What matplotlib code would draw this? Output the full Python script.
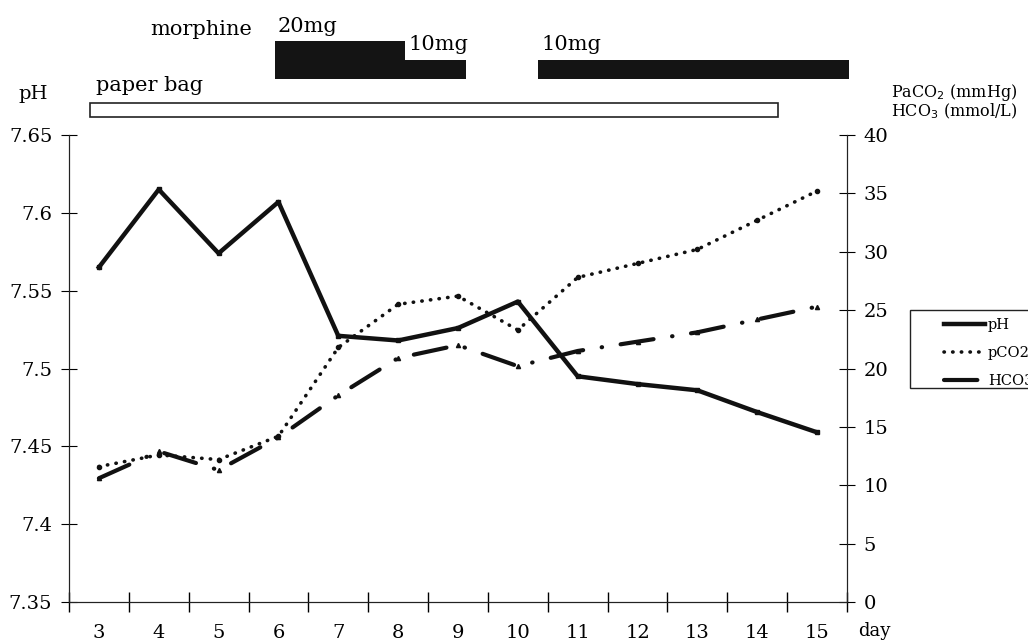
import numpy as np
import matplotlib.pyplot as plt
from matplotlib.patches import Rectangle
import matplotlib.transforms as mtransforms

plt.rcParams['font.family'] = ['DejaVu Serif']

days = ["3", "4", "5", "6", "7", "8", "9", "10", "11", "12", "13", "14", "15"]
ph = [7.565, 7.615, 7.574, 7.607, 7.521, 7.518, 7.526, 7.543, 7.495, 7.490, 7.486, 7.472, 7.459]
pco2 = [11.6, 12.6, 12.2, 14.2, 21.8, 25.5, 26.2, 23.3, 27.8, 29.0, 30.2, 32.7, 35.2]
hco3 = [10.6, 12.9, 11.3, 14.1, 17.7, 20.9, 22.0, 20.2, 21.5, 22.3, 23.1, 24.2, 25.3]

# treatment periods, in day-index units (0 = day 3)
morphine = [(2.94, 5.12, "20mg"), (5.12, 6.14, "10mg"), (7.34, 12.53, "10mg")]
paper_bag = (-0.15, 11.34)

x = np.arange(len(days))

fig = plt.figure(figsize=(10.28, 6.41), dpi=100)
ax = fig.add_axes([0.0671, 0.0608, 0.7568, 0.7286])
ax2 = ax.twinx()

l1, = ax.plot(x, ph, color='#111111', lw=3.2, marker='s', ms=3, label='pH')
l2, = ax2.plot(x, pco2, color='#111111', lw=2.6, linestyle=(0, (0.1, 2.3)),
               dash_capstyle='round', marker='o', ms=3, label='pCO2')
l3, = ax2.plot(x, hco3, color='#111111', lw=3.0, linestyle=(0, (8, 4.5, 0.1, 4.5)),
               dash_capstyle='round', marker='^', ms=3, label='HCO3')

ax.set_xlim(-0.5, len(days) - 0.5)
ax.set_ylim(7.35, 7.65)
ax2.set_ylim(0, 40)
ax.set_yticks(np.arange(7.35, 7.651, 0.05))
ax.set_yticklabels(["7.35", "7.4", "7.45", "7.5", "7.55", "7.6", "7.65"])
ax2.set_yticks(np.arange(0, 41, 5))

ax.set_xticks(x)
ax.set_xticklabels(days)
ax.set_xticks(np.arange(-0.5, len(days), 1), minor=True)
ax.tick_params(axis='x', which='major', length=0, pad=16, labelsize=14)
ax.tick_params(axis='x', which='minor', length=14, direction='inout', width=1)
ax.tick_params(axis='y', length=12, direction='inout', labelsize=14, pad=6)
ax2.tick_params(axis='y', length=12, direction='inout', labelsize=14, pad=6)

for a in (ax, ax2):
    a.spines['top'].set_visible(False)
    for s in ('left', 'right', 'bottom'):
        a.spines[s].set_color('#222222')

fig.text(0.835, 0.008, "day", fontsize=13)
fig.text(0.018, 0.845, "pH", fontsize=14)
fig.text(0.867, 0.848, "PaCO$_2$ (mmHg)", fontsize=11.5)
fig.text(0.867, 0.818, "HCO$_3$ (mmol/L)", fontsize=11.5)

trans = mtransforms.blended_transform_factory(ax.transData, ax.transAxes)
for i, (start, end, dose) in enumerate(morphine):
    top = 1.201 if i == 0 else 1.161
    ax.add_patch(Rectangle((start, 1.120), end - start, top - 1.120, transform=trans,
                           facecolor='#141414', edgecolor='none', clip_on=False))
    ax.text(start + 0.05, top + 0.012, dose, transform=trans, fontsize=15, va='bottom')
ax.text(0.85, 1.205, "morphine", transform=trans, fontsize=15, va='bottom')

ax.add_patch(Rectangle((paper_bag[0], 1.039), paper_bag[1] - paper_bag[0], 0.030,
                       transform=trans, facecolor='white', edgecolor='#222222',
                       lw=1.2, clip_on=False))
ax.text(paper_bag[0] + 0.1, 1.085, "paper bag", transform=trans, fontsize=15, va='bottom')

# legend frame runs off the right edge of the figure, as in the source
fig.patches.append(Rectangle((910 / 1028, 1 - 388 / 641), 0.2, 78 / 641,
                             transform=fig.transFigure, facecolor='white',
                             edgecolor='#222222', lw=1.0))
leg = fig.legend(handles=[l1, l2, l3], loc='upper left',
                 bbox_to_anchor=(940 / 1028, 1 - 314 / 641), borderaxespad=0,
                 fontsize=10.5, frameon=False, handlelength=2.8,
                 handletextpad=0.2, borderpad=0.3, labelspacing=0.95)
for h in leg.legend_handles:
    h.set_marker('')

fig.savefig("out.png", dpi=100)
